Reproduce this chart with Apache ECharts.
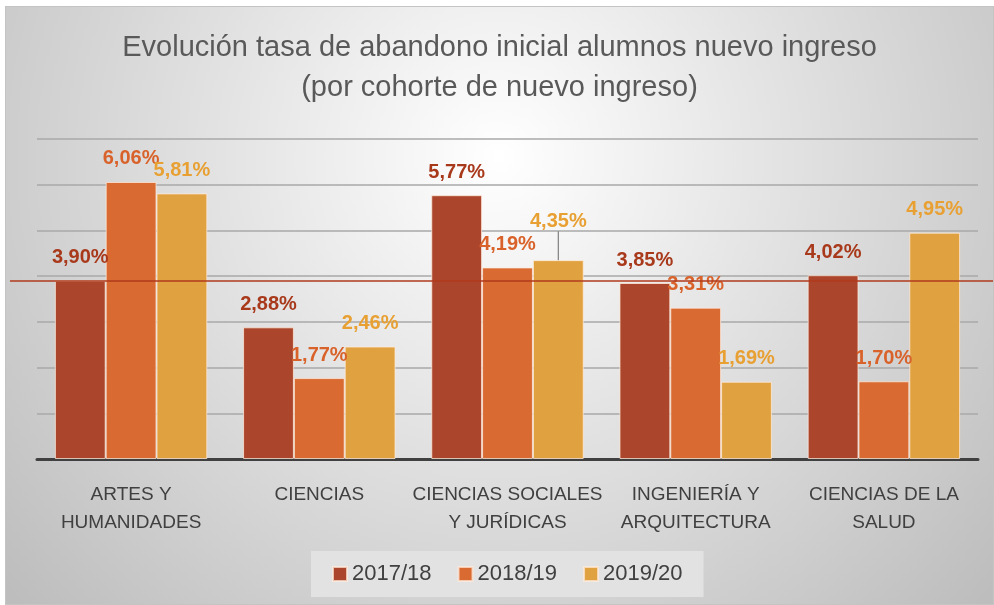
<!DOCTYPE html>
<html>
<head>
<meta charset="utf-8">
<script src="https://cdn.jsdelivr.net/npm/echarts@6/dist/echarts.min.js"></script>
<style>
html,body{margin:0;padding:0;background:#ffffff;width:994px;height:605px;overflow:hidden;}
#chart{position:absolute;left:5px;top:6px;width:987px;height:597px;border:1px solid #c4c4c4;}
</style>
</head>
<body>
<div id="chart"></div>
<script>
const titleText = 'Evolución tasa de abandono inicial alumnos nuevo ingreso\n(por cohorte de nuevo ingreso)';
const categories = ['ARTES Y\nHUMANIDADES', 'CIENCIAS', 'CIENCIAS SOCIALES\nY JURÍDICAS', 'INGENIERÍA Y\nARQUITECTURA', 'CIENCIAS DE LA\nSALUD'];
const seriesNames = ['2017/18', '2018/19', '2019/20'];
const v2017 = [3.90, 2.88, 5.77, 3.85, 4.02];
const v2018 = [6.06, 1.77, 4.19, 3.31, 1.70];
const v2019 = [5.81, 2.46, 4.35, 1.69, 4.95];
const referenceLine = 3.90;
const yMin = 0, yMax = 7, yStep = 1;

const barColors = ['#ab452b', '#d86a32', '#e0a240'];
const labelColors = ['#a8391b', '#d9622a', '#e8a032'];
const values = [v2017, v2018, v2019];
// label offsets (style only)
const labelOffsets = [
  [[0,0],[0,0],[-6,0],[0,0],[0,0]],
  [[0,0],[0,0],[5,0],[9,0],[0,0]],
  [[0,0],[0,0],[0,0],[21,0],[0,0]]
];

const fmt = v => v.toFixed(2).replace('.', ',') + '%';

const series = values.map((arr, s) => ({
  name: seriesNames[s],
  type: 'bar',
  xAxisIndex: 0, yAxisIndex: 0,
  barGap: '0%',
  barCategoryGap: '19%',
  itemStyle: {color: barColors[s], borderColor: 'rgba(255,235,220,0.75)', borderWidth: 1},
  label: {
    show: true, position: 'top', distance: 13,
    color: labelColors[s], fontSize: 20, fontWeight: 'bold',
    fontFamily: 'Liberation Sans, Arial, sans-serif',
    formatter: p => fmt(p.value)
  },
  labelLine: {show: false, lineStyle: {color: '#7f7f7f', width: 1.2}},
  labelLayout: function (p) {
    if (s === 2 && p.dataIndex === 2) return {dy: -16};
    return {};
  },
  data: arr.map((v, i) => {
    const item = {value: v, label: {offset: labelOffsets[s][i]}};
    if (s === 2 && i === 2) item.labelLine = {show: true, lineStyle: {color: '#7f7f7f', width: 1.2}};
    return item;
  }),
  z: 3
}));

series.push({
  name: 'ref',
  type: 'line',
  xAxisIndex: 1, yAxisIndex: 1,
  data: [],
  silent: true,
  markLine: {
    symbol: 'none', silent: true, label: {show: false},
    lineStyle: {color: '#b03a1c', width: 1.5, type: 'solid'},
    data: [{yAxis: referenceLine}]
  },
  z: 5
});

const chart = echarts.init(document.getElementById('chart'), null, {renderer: 'canvas'});
chart.setOption({
  animation: false,
  backgroundColor: {
    type: 'radial', x: 0.5, y: 0.25, r: 1.1,
    colorStops: [{offset: 0, color: '#ffffff'}, {offset: 1, color: '#bdbdbd'}]
  },
  title: {
    text: titleText, left: 'center', top: 21, padding: 0,
    textStyle: {fontFamily: 'Liberation Sans, Arial, sans-serif', fontSize: 29, fontWeight: 'normal', color: '#595959', lineHeight: 40}
  },
  legend: {
    data: seriesNames,
    left: 305, top: 544,
    padding: [12, 21],
    backgroundColor: '#e2e2e2',
    itemWidth: 14, itemHeight: 14, itemGap: 26,
    icon: 'rect',
    textStyle: {fontFamily: 'Liberation Sans, Arial, sans-serif', fontSize: 22, color: '#404040'}
  },
  grid: [
    {left: 31, right: 15, top: 132, bottom: 145},
    {left: 4, right: 0, top: 132, bottom: 145}
  ],
  xAxis: [
    {
      type: 'category', data: categories, gridIndex: 0,
      axisLine: {lineStyle: {color: '#404040', width: 3}},
      axisTick: {show: false},
      axisLabel: {
        interval: 0, margin: 22, color: '#404040', fontSize: 19, lineHeight: 28,
        fontFamily: 'Liberation Sans, Arial, sans-serif', verticalAlign: 'top'
      }
    },
    {type: 'category', gridIndex: 1, data: categories, show: false}
  ],
  yAxis: [
    {
      type: 'value', gridIndex: 0, min: yMin, max: yMax, interval: yStep,
      axisLabel: {show: false}, axisLine: {show: false}, axisTick: {show: false},
      splitLine: {lineStyle: {color: '#a8a8a8', width: 1.5}}
    },
    {type: 'value', gridIndex: 1, min: yMin, max: yMax, interval: yStep, show: false, splitLine: {show: false}}
  ],
  series: series
});
</script>
</body>
</html>
